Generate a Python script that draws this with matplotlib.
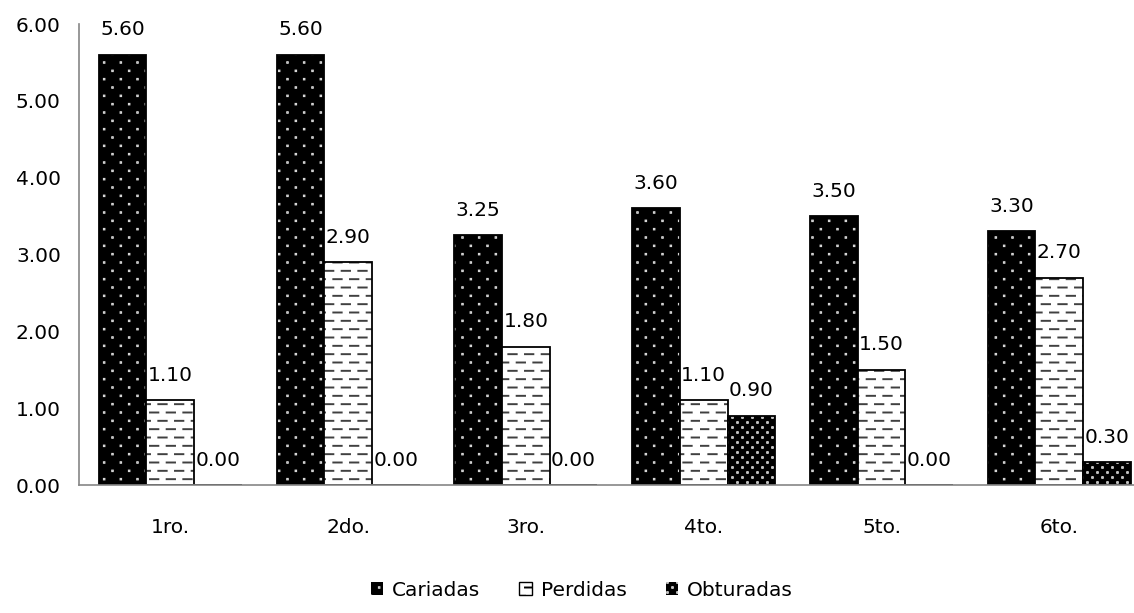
import warnings
import numpy as np
import matplotlib
matplotlib.use("Agg")
import matplotlib.pyplot as plt
from matplotlib import hatch as mhatch
from matplotlib.path import Path
from matplotlib.patches import Patch

warnings.filterwarnings("ignore")

grados = ["1ro.", "2do.", "3ro.", "4to.", "5to.", "6to."]
cariadas = [5.60, 5.60, 3.25, 3.60, 3.50, 3.30]
perdidas = [1.10, 2.90, 1.80, 1.10, 1.50, 2.70]
obturadas = [0.00, 0.00, 0.00, 0.90, 0.00, 0.30]


class DashedRows(mhatch.HatchPatternBase):
    # '_' : short horizontal dashes, staggered every other row
    rows, per_row, seg = 12, 6, 0.5

    def __init__(self, hatch, density):
        self.on = hatch.count('_') > 0
        self.num_vertices = self.rows * (self.per_row + 1) * 2 if self.on else 0

    def set_vertices_and_codes(self, vertices, codes):
        step = 1.0 / self.per_row
        k = 0
        for r in range(self.rows):
            y = (r + 0.5) / self.rows
            shift = step / 2 if r % 2 else 0.0
            for c in range(-1, self.per_row):
                x0 = max(c * step + shift, 0.0)
                x1 = min(c * step + shift + step * self.seg, 1.0)
                if x1 <= x0:
                    x0 = x1 = 0.0
                vertices[k] = (x0, y)
                vertices[k + 1] = (x1, y)
                codes[k] = Path.MOVETO
                codes[k + 1] = Path.LINETO
                k += 2


class DotGrid(mhatch.HatchPatternBase):
    # tiny square dots on a staggered grid; ':' sparse, ';' dense
    specs = {':': (12, 6), ';': (20, 10)}

    def __init__(self, hatch, density):
        self.grid = None
        for ch, g in self.specs.items():
            if ch in hatch:
                self.grid = g
        if self.grid:
            rows, cols = self.grid
            self.num_vertices = rows * cols * 5
        else:
            self.num_vertices = 0

    def set_vertices_and_codes(self, vertices, codes):
        rows, cols = self.grid
        d = 0.003
        k = 0
        for r in range(rows):
            y = (r + 0.5) / rows
            shift = 0.5 / cols if r % 2 else 0.0
            for c in range(cols):
                x = (c + 0.25) / cols + shift
                pts = [(x - d, y - d), (x + d, y - d), (x + d, y + d), (x - d, y + d), (x - d, y - d)]
                for i, p in enumerate(pts):
                    vertices[k + i] = p
                codes[k:k + 5] = [Path.MOVETO, Path.LINETO, Path.LINETO, Path.LINETO, Path.CLOSEPOLY]
                k += 5


mhatch._hatch_types.extend([DashedRows, DotGrid])

plt.rcParams['font.family'] = ['DejaVu Sans']
plt.rcParams['hatch.linewidth'] = 1.4

FS = 14.5

fig = plt.figure(figsize=(11.34, 6.13), dpi=100)
ax = fig.add_axes([0.0696, 0.2088, 0.9304, 0.752])

x = np.arange(len(grados))
w = 0.268

series = [
    ("Cariadas", cariadas, -w, "black", "#d8d8d8", ":"),
    ("Perdidas", perdidas, 0.0, "white", "#404040", "_"),
    ("Obturadas", obturadas, w, "black", "#e0e0e0", ";"),
]

for nombre, vals, off, fc, hc, ht in series:
    ax.bar(x + off, vals, w, color=fc, edgecolor=hc, hatch=ht, linewidth=0)
    ax.bar(x + off, vals, w, fill=False, edgecolor="black", linewidth=1.3)
    for xi, v in zip(x + off, vals):
        ax.annotate(f"{v:.2f}", (xi, v), xytext=(0, 14), textcoords="offset points",
                    ha="center", va="baseline", fontsize=FS)

ax.set_ylim(0, 6)
ax.set_xlim(-0.514, 5.42)
yt = np.arange(0, 6.01, 1.0)
ax.set_yticks(yt)
ax.set_yticklabels([f"{t:.2f}" for t in yt], fontsize=FS)
ax.set_xticks(x)
ax.set_xticklabels(grados, fontsize=FS)
ax.tick_params(axis="both", length=0)
ax.tick_params(axis="x", pad=24)
ax.tick_params(axis="y", pad=13)
for s in ["top", "right"]:
    ax.spines[s].set_visible(False)
for s in ["left", "bottom"]:
    ax.spines[s].set_color("#868686")
    ax.spines[s].set_linewidth(1.2)

# legend keys: black keys get no border, the white one a black border
proxies = []
for n, _, _, fc, hc, ht in series:
    if fc == "white":
        proxies.append(Patch(facecolor=fc, edgecolor="black", hatch=ht, linewidth=1.0, label=n))
    else:
        proxies.append(Patch(facecolor=fc, edgecolor=hc, hatch=ht, linewidth=0, label=n))
fig.legend(handles=proxies, loc="lower center", bbox_to_anchor=(0.513, -0.008),
           ncol=3, frameon=False, fontsize=FS, handlelength=0.6,
           handleheight=0.6, handletextpad=0.45, columnspacing=1.95)

fig.savefig("out.png", dpi=100)
